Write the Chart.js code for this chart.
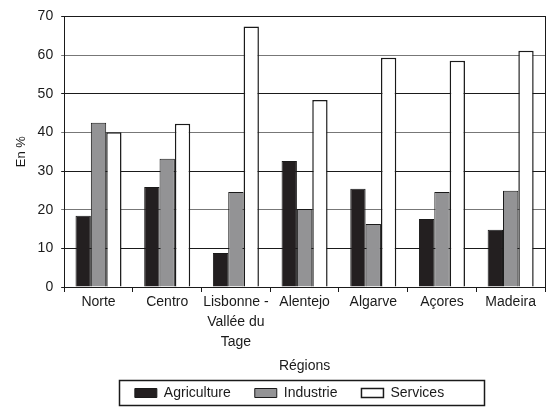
<!DOCTYPE html>
<html>
<head>
<meta charset="utf-8">
<script src="https://cdn.jsdelivr.net/npm/chart.js@4/dist/chart.umd.min.js"></script>
<style>
  html, body { margin: 0; padding: 0; background: #fff; }
  #box { width: 552px; height: 407px; }
</style>
</head>
<body>
<div id="box"><canvas id="myChart" width="552" height="407"></canvas></div>
<script>
const regions = ["Norte", "Centro", ["Lisbonne -", "Vallée du", "Tage"], "Alentejo", "Algarve", "Açores", "Madeira"];
const agriculture = [18.4, 25.9, 8.8, 32.6, 25.4, 17.6, 14.8];
const industrie = [42.5, 33.2, 24.6, 20.2, 16.3, 24.6, 24.9];
const services = [40.0, 42.2, 67.4, 48.4, 59.3, 58.5, 61.1];
const yTicks = [0, 10, 20, 30, 40, 50, 60, 70];

const FONT = "'Liberation Sans', Arial, sans-serif";
Chart.defaults.font.family = FONT;
Chart.defaults.color = "#1a1a1a";

// frame round the plot and round the legend
const framePlugin = {
  id: "frame",
  afterDraw(chart) {
    const ctx = chart.ctx;
    const a = chart.chartArea;
    ctx.save();
    ctx.strokeStyle = "#1a1a1a";
    ctx.lineWidth = 1;
    ctx.strokeRect(Math.round(a.left) + 0.5, Math.round(a.top) + 0.5, Math.round(a.right - a.left), Math.round(a.bottom - a.top));
    const lg = chart.legend;
    if (lg && lg.legendHitBoxes.length) {
      const boxes = lg.legendHitBoxes;
      const x0 = Math.min(...boxes.map(b => b.left)) - 16;
      const x1 = Math.max(...boxes.map(b => b.left + b.width)) + 40;
      const cy = boxes[0].top + boxes[0].height / 2;
      ctx.lineWidth = 1.5;
      ctx.strokeRect(Math.round(x0) + 0.5, Math.round(cy - 13) + 0.5, Math.round(x1 - x0), 25);
    }
    ctx.restore();
  }
};

const myChartsCanvas = document.getElementById("myChart");
const barChart = new Chart(myChartsCanvas, {
  type: "bar",
  data: {
    labels: regions,
    datasets: [
      {
        label: "Agriculture",
        data: agriculture,
        backgroundColor: "#231f20",
        borderColor: "#1a1a1a",
        borderWidth: 1,
      },
      {
        label: "Industrie",
        data: industrie,
        backgroundColor: "#939395",
        borderColor: "#1a1a1a",
        borderWidth: 1,
      },
      {
        label: "Services",
        data: services,
        backgroundColor: "#ffffff",
        borderColor: "#1a1a1a",
        borderWidth: 1.5,
      },
    ],
  },
  options: {
    responsive: false,
    animation: false,
    layout: { padding: { left: 34, right: 7, top: 15, bottom: 0 } },
    datasets: {
      bar: { categoryPercentage: 0.67, barPercentage: 1.0 },
    },
    scales: {
      x: {
        offset: true,
        grid: {
          offset: true,
          drawOnChartArea: false,
          drawTicks: true,
          tickLength: 5,
          color: "#1a1a1a",
        },
        border: { color: "#1a1a1a", width: 1 },
        ticks: {
          font: { size: 14, family: FONT, lineHeight: "20px" },
          color: "#1a1a1a",
          maxRotation: 0,
          autoSkip: false,
          padding: 0,
        },
        title: {
          display: true,
          text: "Régions",
          font: { size: 14, family: FONT },
          color: "#1a1a1a",
          padding: { top: 5.6, bottom: -12.4 },
        },
      },
      y: {
        min: 0,
        max: 70,
        afterBuildTicks(axis) {
          axis.ticks = yTicks.map(v => ({ value: v }));
        },
        grid: {
          color: (c) => (c.tick && c.tick.value % 20 === 0 && c.tick.value > 0 ? "#777777" : "#1a1a1a"),
          lineWidth: 1,
          tickLength: 3,
        },
        border: { color: "#1a1a1a", width: 1 },
        ticks: {
          font: { size: 14, family: FONT },
          color: "#1a1a1a",
          padding: 8,
        },
        title: {
          display: true,
          text: "En %",
          font: { size: 13, family: FONT },
          color: "#1a1a1a",
          padding: { top: -20, bottom: 0 },
        },
      },
    },
    plugins: {
      legend: {
        position: "bottom",
        maxHeight: 45,
        labels: {
          boxWidth: 22,
          boxHeight: 9,
          padding: 24,
          font: { size: 14, family: FONT },
          color: "#1a1a1a",
          useBorderRadius: false,
        },
      },
      tooltip: { enabled: false },
    },
  },
  plugins: [framePlugin],
});
</script>
</body>
</html>
